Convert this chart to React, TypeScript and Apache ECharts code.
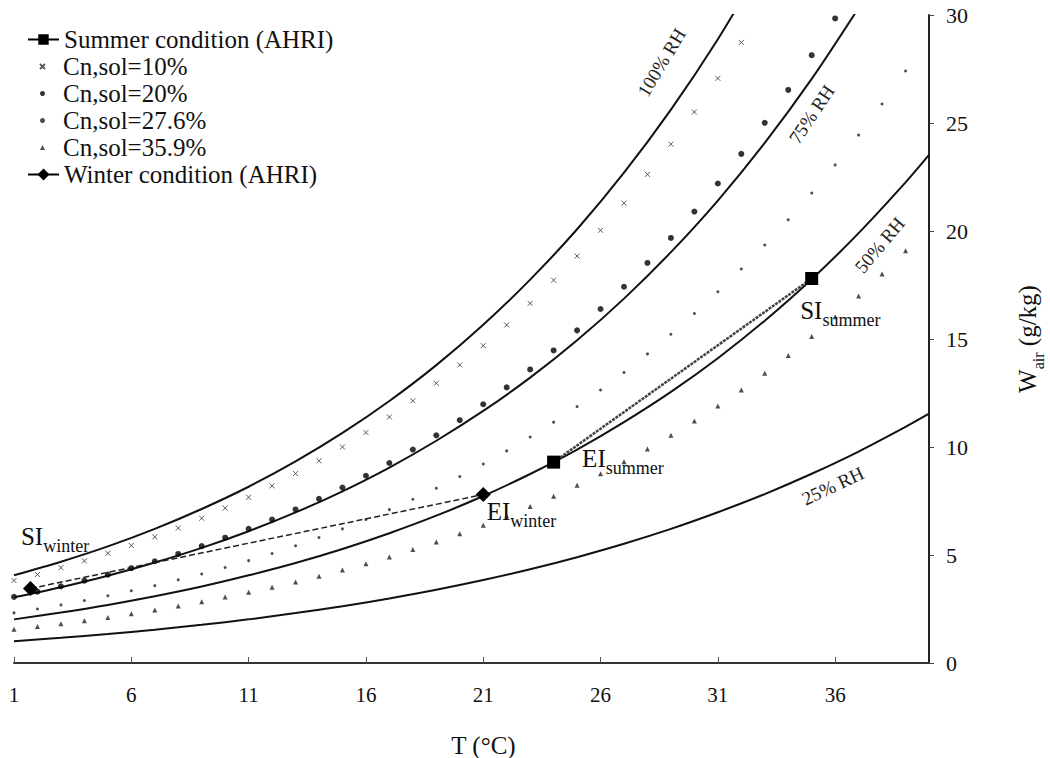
import { useEffect, useRef } from 'react';
import * as echarts from 'echarts';

const SERIF = '"Liberation Serif", "Times New Roman", serif';
const INK = '#111';

// ---- axis ticks ----
const xTickValues = [1, 6, 11, 16, 21, 26, 31, 36];

// ---- RH curves (T in °C, W in g/kg) ----
const rh100T = [1, 3, 5, 7, 9, 11, 13, 15, 17, 19, 21, 23, 25, 27, 29, 31, 33];
const rh100W = [4.06, 4.69, 5.40, 6.21, 7.13, 8.16, 9.33, 10.65, 12.13, 13.79, 15.66, 17.75, 20.08, 22.70, 25.62, 28.88, 32.52];
const rh75T = [1, 3, 5, 7, 9, 11, 13, 15, 17, 19, 21, 23, 25, 27, 29, 31, 33, 35, 37];
const rh75W = [3.04, 3.51, 4.04, 4.65, 5.33, 6.10, 6.97, 7.95, 9.05, 10.29, 11.67, 13.21, 14.94, 16.87, 19.02, 21.41, 24.08, 27.04, 30.33];
const rh50T = [1, 3, 5, 7, 9, 11, 13, 15, 17, 19, 21, 23, 25, 27, 29, 31, 33, 35, 37, 39, 40];
const rh50W = [2.02, 2.34, 2.69, 3.09, 3.54, 4.06, 4.63, 5.28, 6.01, 6.82, 7.73, 8.75, 9.88, 11.15, 12.55, 14.11, 15.85, 17.77, 19.90, 22.25, 23.52];
const rh25T = [1, 3, 5, 7, 9, 11, 13, 15, 17, 19, 21, 23, 25, 27, 29, 31, 33, 35, 37, 39, 40];
const rh25W = [1.01, 1.17, 1.34, 1.54, 1.77, 2.02, 2.31, 2.63, 2.99, 3.39, 3.84, 4.34, 4.90, 5.52, 6.21, 6.98, 7.82, 8.76, 9.79, 10.93, 11.54];

// ---- solution equilibrium points ----
const cnT = [1, 2, 3, 4, 5, 6, 7, 8, 9, 10, 11, 12, 13, 14, 15, 16, 17, 18, 19, 20, 21, 22, 23, 24, 25, 26, 27, 28, 29, 30, 31, 32, 33, 34, 35, 36, 37, 38, 39];
const cn10W = [3.82, 4.10, 4.41, 4.73, 5.08, 5.44, 5.84, 6.25, 6.70, 7.17, 7.67, 8.20, 8.77, 9.36, 10.00, 10.67, 11.39, 12.14, 12.95, 13.80, 14.69, 15.65, 16.65, 17.72, 18.84, 20.03, 21.29, 22.62, 24.02, 25.51, 27.07, 28.73];
const cn20W = [3.06, 3.30, 3.55, 3.81, 4.09, 4.39, 4.71, 5.05, 5.41, 5.80, 6.21, 6.64, 7.11, 7.60, 8.12, 8.67, 9.26, 9.88, 10.54, 11.24, 11.98, 12.76, 13.59, 14.47, 15.40, 16.39, 17.42, 18.52, 19.68, 20.90, 22.20, 23.57, 25.01, 26.53, 28.14, 29.84];
const cn276W = [2.32, 2.50, 2.69, 2.89, 3.11, 3.34, 3.58, 3.85, 4.12, 4.42, 4.74, 5.07, 5.43, 5.81, 6.21, 6.64, 7.10, 7.58, 8.09, 8.63, 9.21, 9.82, 10.46, 11.15, 11.87, 12.64, 13.45, 14.31, 15.22, 16.18, 17.19, 18.24, 19.35, 20.52, 21.76, 23.06, 24.44, 25.88, 27.41];
const cn359W = [1.56, 1.69, 1.82, 1.96, 2.11, 2.28, 2.45, 2.64, 2.83, 3.05, 3.27, 3.51, 3.75, 4.02, 4.30, 4.60, 4.91, 5.25, 5.60, 5.98, 6.38, 6.80, 7.25, 7.72, 8.23, 8.76, 9.32, 9.91, 10.54, 11.20, 11.90, 12.64, 13.42, 14.24, 15.11, 16.03, 16.99, 18.01, 19.09];

// ---- AHRI conditions ----
const summerT = [24, 35];
const summerW = [9.3, 17.8];
const summerLabels = ['EI|summer', 'SI|summer'];
const winterT = [1.7, 21];
const winterW = [3.45, 7.8];
const winterLabels = ['SI|winter', 'EI|winter'];

// ---- names ----
const nSummer = 'Summer condition (AHRI)';
const nWinter = 'Winter condition (AHRI)';
const n10 = 'Cn,sol=10%';
const n20 = 'Cn,sol=20%';
const n276 = 'Cn,sol=27.6%';
const n359 = 'Cn,sol=35.9%';

const pairs = (xs: number[], ys: number[]) => ys.map((y, i) => [xs[i], y]);

const subRich = {
  m: { fontFamily: SERIF, fontSize: 25, lineHeight: 31, verticalAlign: 'top', color: INK },
  s: { fontFamily: SERIF, fontSize: 18, lineHeight: 18, verticalAlign: 'bottom', color: INK },
};
const subText = (s: string) => {
  const [a, b] = s.split('|');
  return `{m|${a}}{s|${b}}`;
};

function rhSeries(name: string, xs: number[], ys: number[], labelCoord: number[], rotate: number) {
  return {
    name,
    type: 'line',
    data: pairs(xs, ys),
    smooth: 0.3,
    showSymbol: false,
    symbol: 'none',
    silent: true,
    z: 1,
    lineStyle: { color: '#111', width: 2 },
    markPoint: {
      symbol: 'circle',
      symbolSize: 0,
      silent: true,
      data: [{ coord: labelCoord }],
      label: {
        show: true,
        position: 'inside',
        formatter: name,
        rotate,
        fontFamily: SERIF,
        fontSize: 19,
        color: '#222',
      },
    },
  };
}

const legendText = { fontFamily: SERIF, fontSize: 25, color: INK, lineHeight: 27 };

const option = {
  animation: false,
  backgroundColor: '#ffffff',
  grid: { left: 14, right: 121, top: 15, bottom: 95, containLabel: false, outerBoundsMode: 'none' },
  legend: [
    {
      data: [nSummer], orient: 'vertical', left: 27, top: 26, padding: 0,
      itemWidth: 31, itemHeight: 13, itemGap: 0, textStyle: legendText, selectedMode: false,
      lineStyle: { type: 'solid', color: '#000', width: 2 },
    },
    {
      data: [n10, n20, n276, n359], orient: 'vertical', left: 39, top: 53, padding: 0,
      itemWidth: 5, itemHeight: 5, itemGap: 0, selectedMode: false,
      textStyle: { ...legendText, padding: [0, 0, 0, 13] },
    },
    {
      data: [nWinter], orient: 'vertical', left: 27, top: 161, padding: 0,
      itemWidth: 31, itemHeight: 15, itemGap: 0, textStyle: legendText, selectedMode: false,
      lineStyle: { type: 'solid', color: '#000', width: 2 },
    },
  ],
  xAxis: {
    type: 'value',
    min: 1,
    max: 40,
    name: 'T (°C)',
    nameLocation: 'middle',
    nameGap: 70,
    nameTextStyle: { fontFamily: SERIF, fontSize: 25, color: INK, padding: [0, 0, 0, 24] },
    axisLine: { show: true, lineStyle: { color: '#333', width: 2 } },
    axisTick: { show: true, inside: true, length: 6, customValues: xTickValues, lineStyle: { color: '#555', width: 1 } },
    axisLabel: { customValues: xTickValues, margin: 21, fontFamily: SERIF, fontSize: 21, color: INK },
    splitLine: { show: false },
  },
  yAxis: {
    type: 'value',
    position: 'right',
    min: 0,
    max: 30,
    interval: 5,
    name: '{w|W}{s|air}{w| (g/kg)}',
    nameLocation: 'middle',
    nameRotate: 90,
    nameGap: 86,
    nameTextStyle: {
      rich: {
        w: { fontFamily: SERIF, fontSize: 25, lineHeight: 31, verticalAlign: 'top', color: INK },
        s: { fontFamily: SERIF, fontSize: 16, lineHeight: 16, verticalAlign: 'bottom', color: INK },
      },
    },
    axisLine: { show: true, lineStyle: { color: '#222', width: 2 } },
    axisTick: { show: true, length: 5, lineStyle: { color: '#444' } },
    axisLabel: { margin: 17, fontFamily: SERIF, fontSize: 22, color: INK },
    splitLine: { show: false },
  },
  series: [
    rhSeries('100% RH', rh100T, rh100W, [28.6, 27.8], 59),
    rhSeries('75% RH', rh75T, rh75W, [35.0, 25.4], 56),
    rhSeries('50% RH', rh50T, rh50W, [37.9, 19.35], 50),
    rhSeries('25% RH', rh25T, rh25W, [35.9, 8.2], 25),
    {
      name: n10, type: 'scatter', z: 3,
      data: pairs(cnT, cn10W),
      symbol: 'path://M0,0L10,10M10,0L0,10',
      symbolSize: 5,
      itemStyle: { color: 'rgba(0,0,0,0)', borderColor: '#333', borderWidth: 1 },
    },
    {
      name: n20, type: 'scatter', z: 3,
      data: pairs(cnT, cn20W),
      symbol: 'circle', symbolSize: 6,
      itemStyle: { color: '#000' },
    },
    {
      name: n276, type: 'scatter', z: 3,
      data: pairs(cnT, cn276W),
      symbol: 'circle', symbolSize: 3,
      itemStyle: { color: '#222' },
    },
    {
      name: n359, type: 'scatter', z: 3,
      data: pairs(cnT, cn359W),
      symbol: 'triangle', symbolSize: 5,
      itemStyle: { color: '#222' },
    },
    {
      name: nSummer, type: 'line', z: 4,
      symbol: 'rect', symbolSize: 13,
      itemStyle: { color: '#000' },
      lineStyle: { color: '#444', width: 2.5, type: [3, 1] },
      data: summerW.map((w, i) => ({
        value: [summerT[i], w],
        label: {
          show: true,
          formatter: subText(summerLabels[i]),
          position: i === 0 ? [35, -10] : [-5, 26],
          rich: subRich,
        },
      })),
    },
    {
      name: nWinter, type: 'line', z: 4,
      symbol: 'diamond', symbolSize: 15,
      itemStyle: { color: '#000' },
      lineStyle: { color: '#222', width: 1.5, type: [6, 3] },
      data: winterW.map((w, i) => ({
        value: [winterT[i], w],
        label: {
          show: true,
          formatter: subText(winterLabels[i]),
          position: i === 0 ? [-2, -57] : [11, 12],
          rich: subRich,
        },
      })),
    },
  ],
};

export default function App() {
  const ref = useRef<HTMLDivElement>(null);
  useEffect(() => {
    document.body.style.margin = '0';
    const chart = echarts.init(ref.current as HTMLDivElement, null, { renderer: 'svg' });
    chart.setOption(option as any);
    return () => chart.dispose();
  }, []);
  return <div ref={ref} style={{ width: 1050, height: 758, background: '#fff' }} />;
}
